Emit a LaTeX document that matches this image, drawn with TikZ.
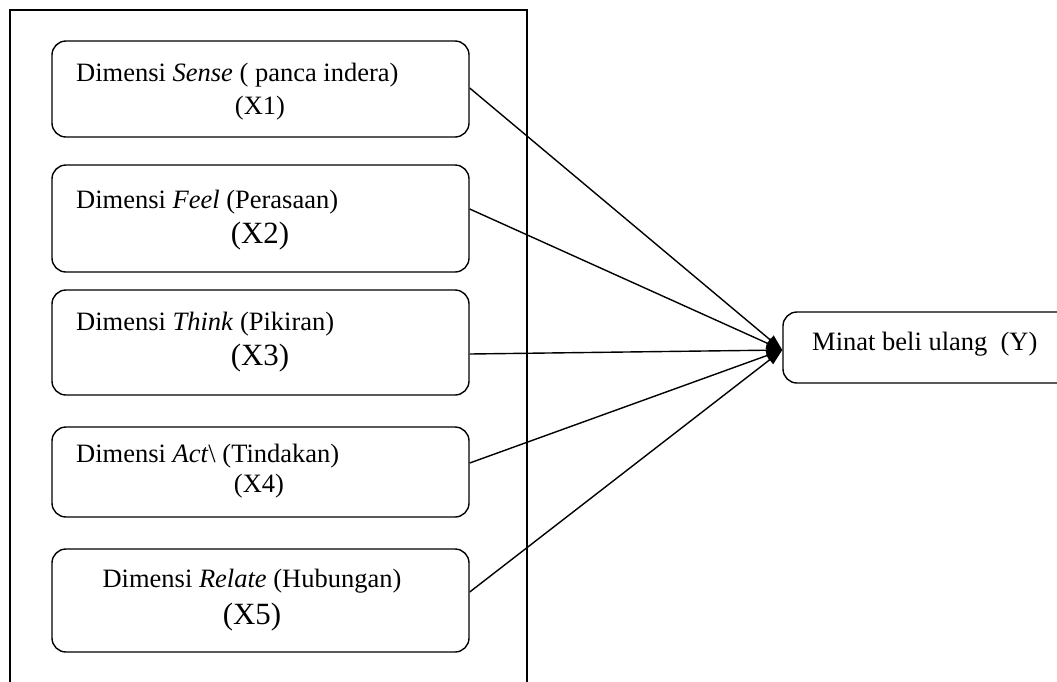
\documentclass[tikz,border=0pt]{standalone}
\usepackage{fontspec}
\setmainfont{Liberation Serif}
\usetikzlibrary{arrows.meta}
\begin{document}
\begin{tikzpicture}[x=1pt,y=-1pt,
  dimbox/.style={draw, line width=1.4pt, rounded corners=14pt, minimum width=417pt, inner sep=0pt},
  lbl/.style={inner sep=0pt, font=\fontsize{26.5}{31}\selectfont},
  big/.style={inner sep=0pt, font=\fontsize{30.9}{36}\selectfont},
  conn/.style={line width=1.4pt, -{Triangle[length=16pt,width=11pt]}}]
\useasboundingbox (0,0) rectangle (1057,681);
\clip (0,0) rectangle (1057,681);
% outer frame
\draw[line width=1.4pt] (10,10) rectangle (527,700);
% dimension boxes
\node[dimbox, minimum height=96pt]  (b1) at (260.5,89) {};
\node[dimbox, minimum height=107pt] (b2) at (260.5,218.5) {};
\node[dimbox, minimum height=105pt] (b3) at (260.5,342.5) {};
\node[dimbox, minimum height=90pt]  (b4) at (260.5,472) {};
\node[dimbox, minimum height=103pt] (b5) at (260.5,600.5) {};
% texts
\node[lbl, anchor=base west] (t1a) at (76,81) {Dimensi \textit{Sense} ( panca indera)};
\node[lbl, anchor=base] (t1b) at (260,114) {(X1)};
\node[lbl, anchor=base west] (t2a) at (76,208) {Dimensi \textit{Feel} (Perasaan)};
\node[big, anchor=base] (t2b) at (260,243) {(X2)};
\node[lbl, anchor=base west] (t3a) at (76,330) {Dimensi \textit{Think} (Pikiran)};
\node[big, anchor=base] (t3b) at (260,365) {(X3)};
\node[lbl, anchor=base west] (t4a) at (76,462) {Dimensi \textit{Act}\textbackslash\ (Tindakan)};
\node[lbl, anchor=base] (t4b) at (259,492) {(X4)};
\node[lbl, anchor=base] (t5a) at (252,587) {Dimensi \textit{Relate} (Hubungan)};
\node[big, anchor=base] (t5b) at (252,624) {(X5)};
% target box
\node[draw, line width=1.4pt, rounded corners=14pt, minimum width=290pt, minimum height=71pt, inner sep=0pt] (Y) at (928,347.5) {};
\node[lbl, anchor=base west] (ty) at (812,350) {Minat beli ulang\ \ (Y)};
\coordinate (tip) at ([yshift=-2.5pt]Y.west);
% connectors
\draw[conn] ([yshift=1pt]b1.east) -- (tip);
\draw[conn] ([yshift=9.5pt]b2.east) -- (tip);
\draw[conn] ([yshift=-11.5pt]b3.east) -- (tip);
\draw[conn] ([yshift=9pt]b4.east) -- (tip);
\draw[conn] ([yshift=8.5pt]b5.east) -- (tip);
\end{tikzpicture}
\end{document}
